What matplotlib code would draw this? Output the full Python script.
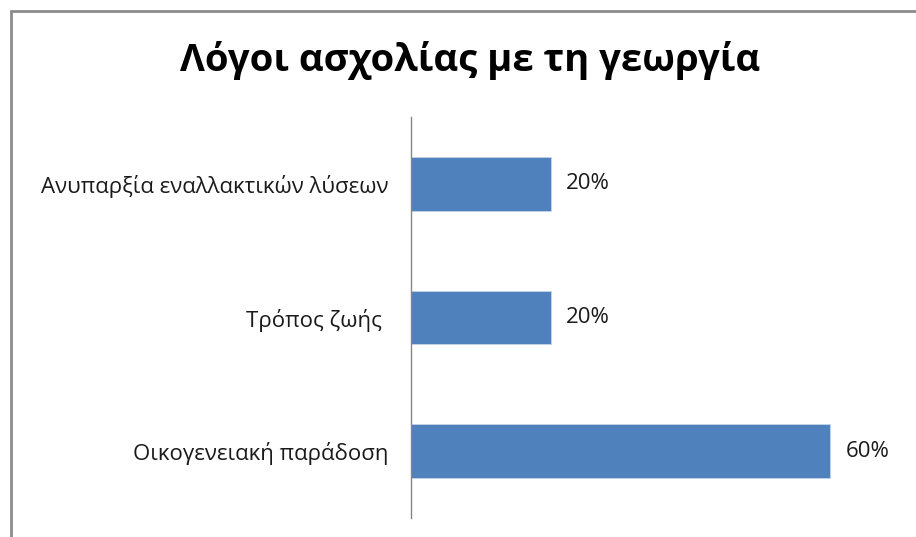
import matplotlib.pyplot as plt
from matplotlib.patches import Rectangle

plt.rcParams['font.family'] = ['Open Sans', 'DejaVu Sans']

# reasons, top to bottom
reasons = ['Ανυπαρξία εναλλακτικών λύσεων', 'Τρόπος ζωής ', 'Οικογενειακή παράδοση']
shares = [0.20, 0.20, 0.60]
share_labels = ['20%', '20%', '60%']

W, H = 916, 537
fig = plt.figure(figsize=(W / 100, H / 100), dpi=100)

# chart frame (runs off the right and bottom edges)
fig.patches.append(Rectangle((11 / W, -0.1), 1.2, (H - 11) / H + 0.1,
                             transform=fig.transFigure, fill=False,
                             edgecolor='#8c8c8c', linewidth=2))

ax = fig.add_axes([411 / W, (H - 518) / H, (900 - 411) / W, (518 - 117) / H])
y = range(len(reasons))
ax.barh(y, shares, height=0.4, color='#4F81BD', edgecolor='#c6d5ea', linewidth=0.6)
ax.set_xlim(0, 0.7)
ax.set_ylim(len(reasons) - 0.5, -0.5)
ax.set_yticks(list(y))
ax.set_yticklabels(reasons, fontsize=16, color='#1a1a1a')
ax.tick_params(axis='y', length=0, pad=16.5)
ax.set_xticks([])
for s in ['top', 'right', 'bottom']:
    ax.spines[s].set_visible(False)
ax.spines['left'].set_color('#868686')
ax.spines['left'].set_linewidth(1)

for yi, v, lab in zip(y, shares, share_labels):
    ax.annotate(lab, (v, yi), xytext=(11, 0), textcoords='offset points',
                va='center', ha='left', fontsize=16, color='#1a1a1a')

fig.text(470 / W, (H - 60) / H, 'Λόγοι ασχολίας με τη γεωργία', ha='center', va='center',
         fontsize=27.5, fontweight='bold')

fig.savefig('out.png', dpi=100)
